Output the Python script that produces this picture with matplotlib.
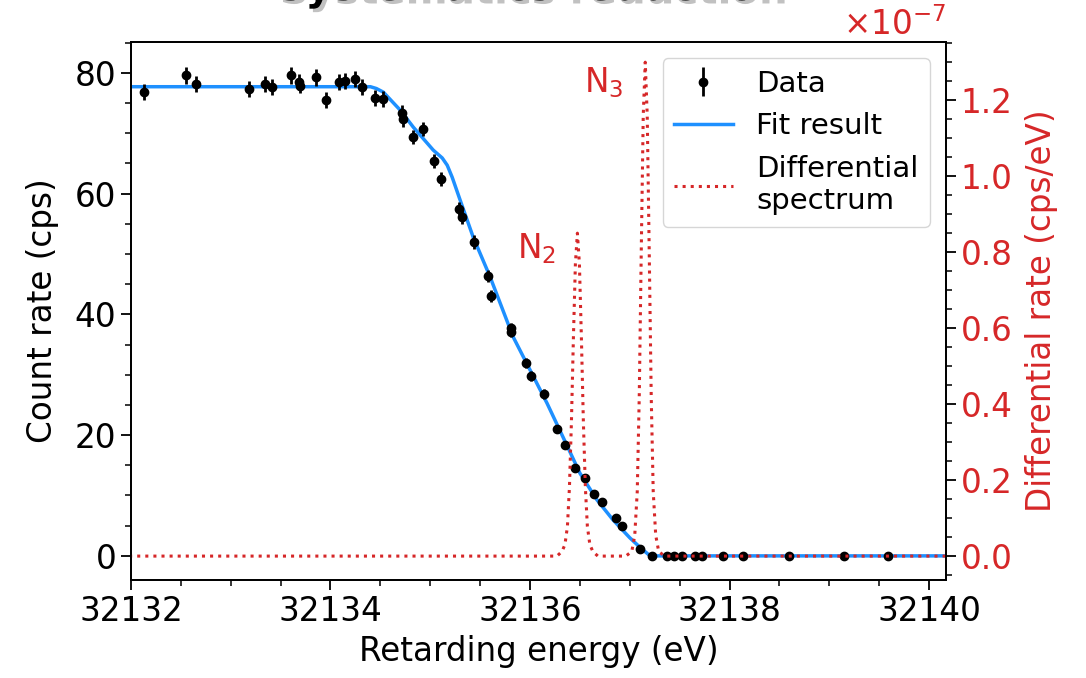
import matplotlib
matplotlib.use("Agg")
import matplotlib.pyplot as plt
import matplotlib.patheffects as pe
from matplotlib.ticker import MultipleLocator, FixedLocator

# ---------------- data ----------------
data_E = [32132.13, 32132.55, 32132.65, 32133.18, 32133.34, 32133.41, 32133.60,
          32133.68, 32133.69, 32133.85, 32133.95, 32134.09, 32134.15, 32134.25,
          32134.32, 32134.45, 32134.53, 32134.72, 32134.73, 32134.83, 32134.93,
          32135.04, 32135.11, 32135.29, 32135.32, 32135.44, 32135.58, 32135.61,
          32135.81, 32135.81, 32135.96, 32136.01, 32136.14, 32136.27, 32136.35,
          32136.45, 32136.55, 32136.64, 32136.72, 32136.86, 32136.92, 32137.10,
          32137.22, 32137.37, 32137.44, 32137.52, 32137.65, 32137.72, 32137.93,
          32138.13, 32138.60, 32139.15, 32139.59]
data_rate = [76.8, 79.6, 78.1, 77.3, 78.1, 77.6, 79.6,
             78.5, 77.9, 79.3, 75.5, 78.5, 78.7, 79.0,
             77.6, 75.8, 75.7, 73.3, 72.3, 69.4, 70.7,
             65.4, 62.4, 57.5, 56.1, 52.0, 46.4, 43.0,
             37.7, 37.1, 31.9, 29.8, 26.8, 21.0, 18.4,
             14.6, 12.9, 10.3, 8.9, 6.2, 5.0, 1.2,
             0.0, 0.0, 0.0, 0.0, 0.0, 0.0, 0.0,
             0.0, 0.0, 0.0, 0.0]
data_err = [1.3, 1.4, 1.3, 1.3, 1.3, 1.3, 1.4,
            1.3, 1.3, 1.4, 1.3, 1.3, 1.3, 1.3,
            1.3, 1.3, 1.3, 1.3, 1.3, 1.2, 1.2,
            1.2, 1.2, 1.1, 1.1, 1.1, 1.0, 1.0,
            0.9, 0.9, 0.8, 0.8, 0.8, 0.7, 0.7,
            0.6, 0.6, 0.5, 0.5, 0.4, 0.4, 0.2,
            0.1, 0.1, 0.1, 0.1, 0.1, 0.1, 0.1,
            0.1, 0.1, 0.1, 0.1]

fit_E = [32131.9, 32134.40, 32134.46, 32134.53, 32134.70, 32134.83, 32135.03,
         32135.12, 32135.17, 32135.22, 32135.30, 32135.43, 32135.60, 32135.83,
         32136.00, 32136.17, 32136.33, 32136.50, 32136.67, 32136.83, 32137.00,
         32137.11, 32137.19, 32137.24, 32140.4]
fit_rate = [77.7, 77.7, 77.4, 76.8, 73.8, 71.0, 67.2,
            65.9, 64.7, 62.7, 58.9, 52.8, 46.2, 36.3,
            30.8, 25.3, 19.7, 13.7, 9.3, 6.0, 3.0,
            1.3, 0.2, 0.0, 0.0]

# differential spectrum (units of 1e-7 cps/eV)
diff_E = [32131.9, 32136.27, 32136.32, 32136.35, 32136.375, 32136.395, 32136.415,
          32136.435, 32136.455, 32136.475, 32136.495, 32136.515, 32136.535,
          32136.555, 32136.575, 32136.60, 32136.63, 32136.68,
          32136.96, 32137.02, 32137.05, 32137.075, 32137.095, 32137.115,
          32137.135, 32137.155, 32137.175, 32137.195, 32137.215, 32137.235,
          32137.26, 32137.29, 32137.35, 32140.4]
diff_rate = [0.0, 0.0, 0.012, 0.030, 0.078, 0.180, 0.352,
             0.575, 0.77, 0.85, 0.77, 0.575, 0.352,
             0.180, 0.078, 0.030, 0.012, 0.0,
             0.0, 0.012, 0.055, 0.170, 0.420, 0.80,
             1.16, 1.30, 1.16, 0.80, 0.420, 0.170,
             0.055, 0.012, 0.0, 0.0]
diff_scale = 1e-7

xticks = [32132, 32134, 32136, 32138, 32140]
xtick_labels = ["32132", "32134", "32136", "32138", "32140"]
yticks_left = [0, 20, 40, 60, 80]
yticks_right = [0.0, 0.2, 0.4, 0.6, 0.8, 1.0, 1.2]
yticks_right_labels = ["0.0", "0.2", "0.4", "0.6", "0.8", "1.0", "1.2"]

title = "Systematics reduction"
xlabel = "Retarding energy (eV)"
ylabel_left = "Count rate (cps)"
ylabel_right = "Differential rate (cps/eV)"

# ---------------- styling ----------------
RED = "#d62728"
BLUE = "#1e90ff"
FS = 23.5

plt.rcParams["font.family"] = ["DejaVu Sans"]
fig = plt.figure(figsize=(10.86, 6.78), dpi=100)
ax = fig.add_axes([0.1206, 0.1445, 0.8711 - 0.1206, 0.938 - 0.1445])

l_fit, = ax.plot(fit_E, fit_rate, color=BLUE, lw=2.5, zorder=2, label="Fit result")
eb = ax.errorbar(data_E, data_rate, yerr=data_err, fmt="o", color="black",
                 ms=6, elinewidth=2.0, capsize=0, zorder=3, label="Data")

ax.set_xlim(32132, 32140.17)
ax.set_ylim(-4, 85.1)
ax.xaxis.set_major_locator(FixedLocator(xticks))
ax.set_xticklabels(xtick_labels)
ax.xaxis.set_minor_locator(MultipleLocator(0.5))
ax.set_yticks(yticks_left)
ax.yaxis.set_minor_locator(MultipleLocator(5))
ax.tick_params(which="major", direction="out", length=7, width=1.3, labelsize=FS)
ax.tick_params(which="minor", direction="out", length=4, width=1.1)
ax.set_xlabel(xlabel, fontsize=FS, labelpad=5)
ax.set_ylabel(ylabel_left, fontsize=FS, labelpad=11)
for s in ax.spines.values():
    s.set_linewidth(1.3)

ax2 = ax.twinx()
dE_scaled = [v * diff_scale for v in diff_rate]
l_diff, = ax2.plot(diff_E, dE_scaled, color=RED, lw=2.2, ls=":", label="Differential\nspectrum")
ax2.set_ylim(-0.063e-7, 1.353e-7)
ax2.set_yticks([v * diff_scale for v in yticks_right])
ax2.set_yticklabels(yticks_right_labels)
ax2.yaxis.set_minor_locator(MultipleLocator(0.05e-7))
ax2.tick_params(which="major", direction="out", length=7, width=1.3, labelsize=FS,
                labelcolor=RED)
ax2.tick_params(which="minor", direction="out", length=4, width=1.1)
ax2.set_ylabel(ylabel_right, fontsize=FS, color=RED, labelpad=9)
ax2.set_xlim(32132, 32140.17)
for s in ax2.spines.values():
    s.set_linewidth(1.3)

ax2.text(1.0, 1.013, r"$\times$10$^{-7}$", transform=ax2.transAxes, ha="right",
         va="baseline", color=RED, fontsize=FS)

ax2.text(32135.87, 0.784e-7, r"N$_2$", color=RED, fontsize=FS, ha="left", va="baseline")
ax2.text(32136.54, 1.22e-7, r"N$_3$", color=RED, fontsize=FS, ha="left", va="baseline")

leg = ax2.legend([eb, l_fit, l_diff], ["Data", "Fit result", "Differential\nspectrum"],
                 loc="upper right", fontsize=21, borderaxespad=0.55)

fig.text(0.488, 1.0, title, ha="center", va="baseline", fontsize=29,
         fontweight="bold", color="black",
         path_effects=[pe.withSimplePatchShadow(offset=(2.5, -2.5), shadow_rgbFace="#999999",
                                                alpha=0.6)])

fig.savefig("out.png", dpi=100)
